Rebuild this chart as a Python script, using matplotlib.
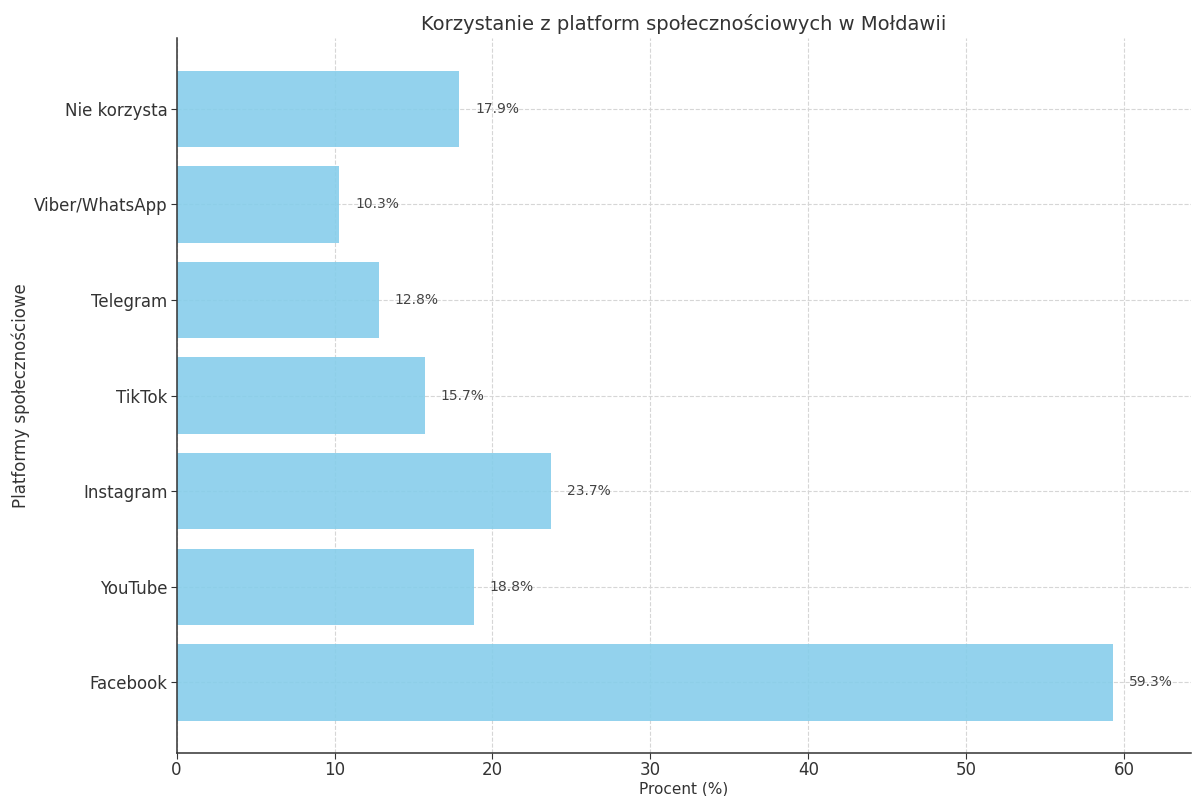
import matplotlib.pyplot as plt

platforms = ["Facebook", "YouTube", "Instagram", "TikTok", "Telegram",
             "Viber/WhatsApp", "Nie korzysta"]
percent = [59.3, 18.8, 23.7, 15.7, 12.8, 10.3, 17.9]

plt.rcParams['text.color'] = '#333333'
plt.rcParams['axes.labelcolor'] = '#333333'
plt.rcParams['xtick.color'] = '#333333'
plt.rcParams['ytick.color'] = '#333333'

fig, ax = plt.subplots(figsize=(11.93, 7.96), dpi=100)
bars = ax.barh(platforms, percent, color='skyblue', alpha=0.9, zorder=2)

for b, v in zip(bars, percent):
    ax.text(b.get_width() + 1, b.get_y() + b.get_height() / 2, f"{v}%",
            va='center', ha='left', fontsize=10, color='#444444')

ax.set_xlim(0, 64.2)
ax.set_title("Korzystanie z platform społecznościowych w Mołdawii", fontsize=14)
ax.set_xlabel("Procent (%)", fontsize=11, labelpad=2)
ax.set_ylabel("Platformy społecznościowe", fontsize=12, labelpad=3)
ax.tick_params(labelsize=12, length=4, pad=1.5)
ax.tick_params(axis='y', pad=2.5)
ax.set_axisbelow(True)
ax.grid(True, linestyle='--', color='#d6d6d6', linewidth=0.8, zorder=1)
for s in ['top', 'right']:
    ax.spines[s].set_visible(False)
for s in ['left', 'bottom']:
    ax.spines[s].set_color('#333333')
    ax.spines[s].set_linewidth(1.1)

plt.subplots_adjust(left=0.148, right=0.998, top=0.952, bottom=0.054)
plt.savefig("out.png")
